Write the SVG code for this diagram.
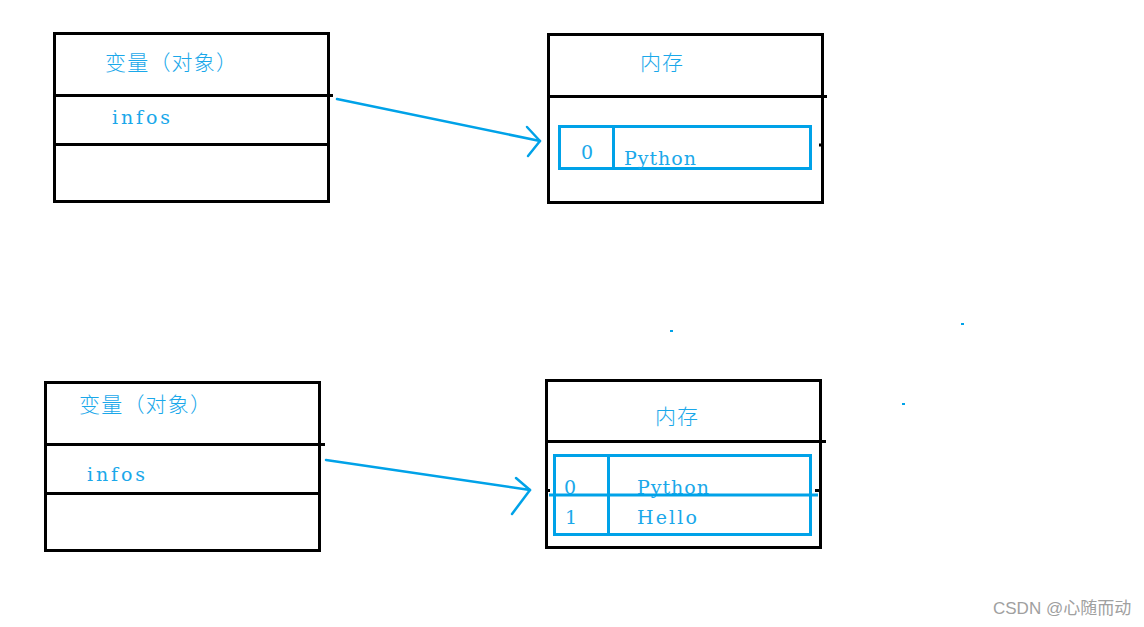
<svg xmlns="http://www.w3.org/2000/svg" width="1144" height="627" viewBox="0 0 1144 627">
<style>
.box{fill:none;stroke:#000;stroke-width:3}
.ln{stroke:#000;stroke-width:3;fill:none}
.bl{stroke:#00a2e8;stroke-width:3;fill:none}
.cn{stroke:#00a2e8;stroke-width:2.5;fill:none;stroke-linecap:round;stroke-linejoin:round}
.cj{font-family:"Noto Sans CJK SC",sans-serif;font-size:21px;fill:#1aa8ea;font-weight:300}
.mo{font-family:"DejaVu Serif",serif;font-size:19px;fill:#1aa8ea;font-weight:300}
.wm{font-family:"Liberation Sans","Noto Sans CJK SC",sans-serif;font-size:17px;fill:#a0a0a0}
</style>
<rect width="1144" height="627" fill="#fff"/>
<g id="var1">
<rect class="box" x="54.5" y="33.5" width="274" height="168"/>
<line class="ln" x1="54" y1="95.5" x2="333" y2="95.5"/>
<line class="ln" x1="54" y1="144.5" x2="328" y2="144.5"/>
<text class="cj" x="105" y="70" textLength="132" lengthAdjust="spacing">变量（对象）</text>
<text class="mo" x="112" y="124" textLength="58" lengthAdjust="spacing">infos</text>
</g>
<g id="mem1">
<rect class="box" x="548.5" y="34.5" width="274" height="168"/>
<line class="ln" x1="548" y1="96.5" x2="827" y2="96.5"/>
<line class="ln" x1="819" y1="145" x2="823" y2="145"/>
<text class="cj" x="640" y="70" textLength="43" lengthAdjust="spacing">内存</text>
<rect class="bl" x="559.5" y="126.5" width="251" height="42"/>
<line class="bl" x1="613.5" y1="126" x2="613.5" y2="168"/>
<text class="mo" x="581" y="159">0</text>
<text class="mo" x="624" y="165" textLength="72" lengthAdjust="spacing">Python</text>
</g>
<g id="var2">
<rect class="box" x="45.5" y="382.5" width="274" height="168"/>
<line class="ln" x1="45" y1="444.5" x2="325" y2="444.5"/>
<line class="ln" x1="45" y1="493.5" x2="319" y2="493.5"/>
<text class="cj" x="79" y="412" textLength="132" lengthAdjust="spacing">变量（对象）</text>
<text class="mo" x="87" y="481" textLength="58" lengthAdjust="spacing">infos</text>
</g>
<g id="mem2">
<rect class="box" x="546.5" y="380.5" width="274" height="167"/>
<line class="ln" x1="546" y1="441.5" x2="826" y2="441.5"/>
<line class="ln" x1="546" y1="490.5" x2="550" y2="490.5"/>
<line class="ln" x1="815" y1="490.5" x2="820" y2="490.5"/>
<text class="cj" x="655" y="424" textLength="43" lengthAdjust="spacing">内存</text>
<rect class="bl" x="554.5" y="455.5" width="256" height="79"/>
<line class="bl" x1="608.5" y1="455" x2="608.5" y2="534"/>
<text class="mo" x="564" y="494">0</text>
<text class="mo" x="637" y="494" textLength="72" lengthAdjust="spacing">Python</text>
<line class="bl" x1="549" y1="495" x2="818" y2="495"/>
<text class="mo" x="565" y="524">1</text>
<text class="mo" x="637" y="524" textLength="60" lengthAdjust="spacing">Hello</text>
</g>
<g id="connectors">
<path class="cn" d="M337,99 L540,141"/>
<path class="cn" d="M527,127 L540,141 L528,156"/>
<path class="cn" d="M326,460 L530,490"/>
<path class="cn" d="M516,478 L530,490 L512,514"/>
</g>
<g id="dots" fill="#00a2e8">
<rect x="670" y="330" width="3" height="2"/>
<rect x="961" y="323" width="3" height="2"/>
<rect x="902" y="403" width="3" height="2"/>
</g>
<text class="wm" x="993" y="614">CSDN @心随而动</text>
</svg>
